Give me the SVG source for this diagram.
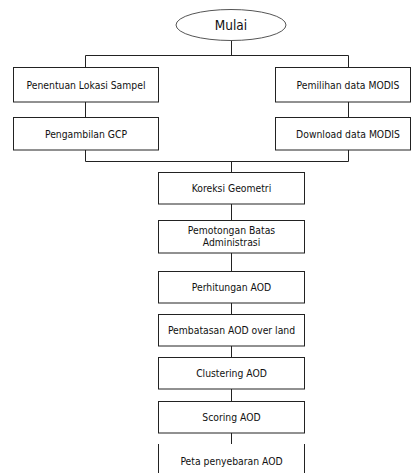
<svg xmlns="http://www.w3.org/2000/svg" width="411" height="473" viewBox="0 0 411 473">
<style>
.box{fill:#fff;stroke:#222;stroke-width:1}
.ln{stroke:#222;stroke-width:1;fill:none}
text{font-family:"DejaVu Sans Condensed","DejaVu Sans",sans-serif;font-size:10.3px;fill:#111;text-anchor:middle}
</style>
<rect width="411" height="473" fill="#fff"/>
<g id="connectors">
<path class="ln" d="M231.5 40V55.5M85.5 55.5H348.5M85.5 55.5V67M348.5 55.5V67M85.5 102V117M348.5 102V117M85.5 150V161.5M348.5 150V161.5M85.5 161.5H348.5M231.5 161.5V172M231.5 204V220M231.5 253V271M231.5 303V314M231.5 346V357M231.5 389V401M231.5 433V444"/>
</g>
<g id="mulai">
<ellipse cx="231" cy="25" rx="55" ry="15.5" fill="#fff" stroke="#555" stroke-width="1"/>
<text x="231" y="30" style="font-size:13.5px">Mulai</text>
</g>
<g id="penentuan">
<rect class="box" x="13.5" y="67.5" width="145" height="34.5"/>
<text x="86" y="89">Penentuan Lokasi Sampel</text>
</g>
<g id="pengambilan">
<rect class="box" x="13.5" y="117.5" width="145" height="32.5"/>
<text x="86" y="138">Pengambilan GCP</text>
</g>
<g id="pemilihan">
<rect class="box" x="275.5" y="67.5" width="135" height="34.5"/>
<text x="348" y="89">Pemilihan data MODIS</text>
</g>
<g id="download">
<rect class="box" x="275.5" y="117.5" width="135" height="32.5"/>
<text x="348" y="138">Download data MODIS</text>
</g>
<g id="koreksi">
<rect class="box" x="158.5" y="172.5" width="146" height="31.5"/>
<text x="231.5" y="192">Koreksi Geometri</text>
</g>
<g id="pemotongan">
<rect class="box" x="158.5" y="220.5" width="146" height="32.5"/>
<text x="231.5" y="234">Pemotongan Batas</text>
<text x="231.5" y="246">Administrasi</text>
</g>
<g id="perhitungan">
<rect class="box" x="158.5" y="271.5" width="146" height="31.5"/>
<text x="231.5" y="291">Perhitungan AOD</text>
</g>
<g id="pembatasan">
<rect class="box" x="158.5" y="314.5" width="146" height="31.5"/>
<text x="231.5" y="334">Pembatasan AOD over land</text>
</g>
<g id="clustering">
<rect class="box" x="158.5" y="357.5" width="146" height="31.5"/>
<text x="231.5" y="377">Clustering AOD</text>
</g>
<g id="scoring">
<rect class="box" x="158.5" y="401.5" width="146" height="31.5"/>
<text x="231.5" y="421">Scoring AOD</text>
</g>
<g id="peta">
<path class="ln" d="M158.5 444V473M304.5 444V473"/>
<text x="231.5" y="465">Peta penyebaran AOD</text>
</g>
</svg>
